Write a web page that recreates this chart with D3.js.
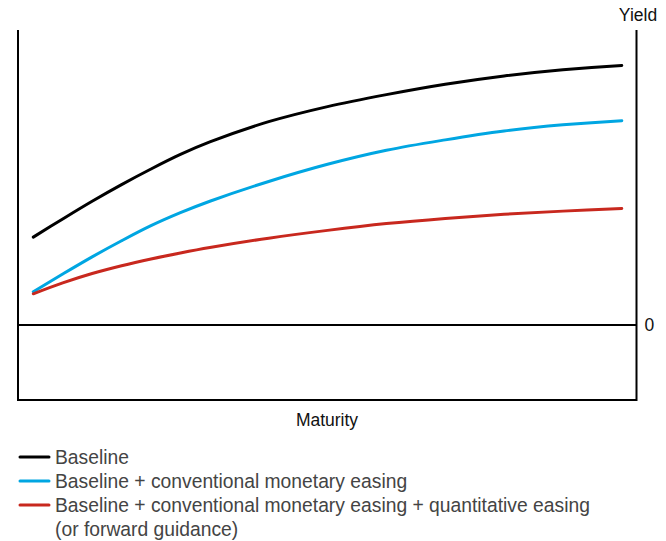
<!DOCTYPE html>
<html>
<head>
<meta charset="utf-8">
<script src="https://cdn.jsdelivr.net/npm/d3@7/dist/d3.min.js"></script>
<style>
  html, body { margin: 0; padding: 0; background: #fff; }
  svg { display: block; font-family: "Liberation Sans", Arial, sans-serif; }
</style>
</head>
<body>
<svg id="chart" width="666" height="541"></svg>
<script>
// ---- data ----
const maturity = [0, 0.5, 1, 1.5, 2, 2.5, 3, 4, 5, 6, 7, 8, 9, 10];
const baseline = [1.69, 2.04, 2.38, 2.70, 3.00, 3.28, 3.52, 3.91, 4.20, 4.43, 4.63, 4.79, 4.91, 4.99];
const conventional = [0.64, 0.98, 1.31, 1.62, 1.91, 2.16, 2.38, 2.76, 3.09, 3.36, 3.56, 3.73, 3.85, 3.93];
const quantitative = [0.60, 0.81, 0.99, 1.14, 1.27, 1.385, 1.49, 1.67, 1.82, 1.95, 2.05, 2.13, 2.19, 2.24];
const seriesNames = [
  "Baseline",
  "Baseline + conventional monetary easing",
  "Baseline + conventional monetary easing + quantitative easing",
];
const legendExtra = "(or forward guidance)";
const colors = ["#000000", "#00a6e2", "#c8281e"];
const yTicks = [0];
const xTitle = "Maturity";
const yTitle = "Yield";

// ---- scales ----
const xDomain = [-0.26, 10.25];
const yDomain = [-1.442, 5.673];
const x = d3.scaleLinear().domain(xDomain).range([18, 636.5]);
const y = d3.scaleLinear().domain(yDomain).range([400, 30]);

const svg = d3.select("#chart");

// frame
const frame = svg.append("g").attr("stroke", "#000").attr("stroke-width", 2).attr("fill", "none");
frame.append("path")
  .attr("d", `M${x(xDomain[0])},${y(yDomain[1])}V${y(yDomain[0])}H${x(xDomain[1])}V${y(yDomain[1])}`);
// zero line
frame.append("line")
  .attr("x1", x(xDomain[0])).attr("x2", x(xDomain[1]))
  .attr("y1", y(0)).attr("y2", y(0));

// right axis label "0"
const yAxis = svg.append("g")
  .attr("transform", `translate(${x(xDomain[1])},0)`)
  .call(d3.axisRight(y).tickValues(yTicks).tickSize(0).tickPadding(8).tickFormat(d3.format("d")));
yAxis.select(".domain").remove();
yAxis.selectAll("text").attr("font-size", 17.5).attr("fill", "#111")
  .attr("font-family", "Liberation Sans, Arial, sans-serif");

// titles
svg.append("text").attr("x", 638).attr("y", 21).attr("text-anchor", "middle")
  .attr("font-size", 17.5).attr("fill", "#111").text(yTitle);
svg.append("text").attr("x", 327).attr("y", 426).attr("text-anchor", "middle")
  .attr("font-size", 17.5).attr("fill", "#111").text(xTitle);

// lines
const line = d3.line()
  .x((d, i) => x(maturity[i]))
  .y(d => y(d))
  .curve(d3.curveCatmullRom.alpha(0.5));
[baseline, conventional, quantitative].forEach((s, k) => {
  svg.append("path")
    .datum(s)
    .attr("fill", "none")
    .attr("stroke", colors[k])
    .attr("stroke-width", 3)
    .attr("stroke-linecap", "round")
    .attr("d", line);
});

// legend
const lg = svg.append("g");
const rowY = [457, 481, 505];
seriesNames.forEach((name, k) => {
  lg.append("line").attr("x1", 20).attr("x2", 49).attr("y1", rowY[k]).attr("y2", rowY[k])
    .attr("stroke", colors[k]).attr("stroke-width", 3).attr("stroke-linecap", "round");
  lg.append("text").attr("x", 55).attr("y", rowY[k] + 7)
    .attr("font-size", 19.3).attr("fill", "#444").text(name);
});
lg.append("text").attr("x", 55).attr("y", rowY[2] + 24 + 7)
  .attr("font-size", 19.3).attr("fill", "#444").text(legendExtra);
</script>
</body>
</html>
